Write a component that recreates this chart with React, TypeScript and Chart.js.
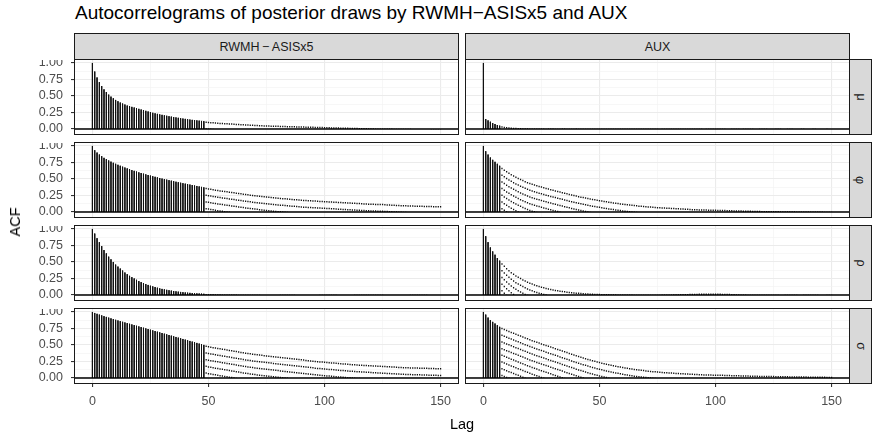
import React, { useEffect, useRef } from "react";
import { Chart, registerables } from "chart.js";
Chart.register(...registerables);

const FONT = "'Liberation Sans', Arial, Helvetica, sans-serif";
Chart.defaults.font.family = FONT;

// ---------- data ----------
const title = "Autocorrelograms of posterior draws by RWMH\u2212ASISx5 and AUX";
const samplers = ["RWMH\u2009\u2212\u2009ASISx5", "AUX"];
const params = ["\u03bc", "\u03c6", "\u03c1", "\u03c3"];
const xLabel = "Lag";
const yLabel = "ACF";
const lags = Array.from({ length: 151 }, (_, i) => i);
const xMajor = [0, 50, 100, 150];
const xMinor = [25, 75, 125];
const yMajor = [0, 0.25, 0.5, 0.75, 1];
const yMinor = [0.125, 0.375, 0.625, 0.875];
const solidUntil = [48, 7]; // last lag rendered with solid stroke, per sampler

const muRWMH = [
  1.0, 0.87, 0.78, 0.71, 0.65, 0.6, 0.56, 0.52, 0.49, 0.465, 0.44,
  0.42, 0.4, 0.385, 0.37, 0.355, 0.345, 0.335, 0.325, 0.315, 0.305,
  0.295, 0.285, 0.275, 0.265, 0.255, 0.245, 0.237, 0.229, 0.221, 0.214,
  0.207, 0.2, 0.193, 0.187, 0.181, 0.175, 0.169, 0.163, 0.158, 0.153,
  0.148, 0.143, 0.138, 0.134, 0.13, 0.126, 0.122, 0.118, 0.114, 0.11,
  0.107, 0.104, 0.101, 0.098, 0.095, 0.093, 0.091, 0.089, 0.087, 0.085,
  0.083, 0.081, 0.079, 0.077, 0.075, 0.073, 0.071, 0.069, 0.067, 0.065,
  0.063, 0.061, 0.059, 0.057, 0.056, 0.055, 0.054, 0.053, 0.052, 0.051,
  0.05, 0.049, 0.048, 0.047, 0.046, 0.045, 0.044, 0.043, 0.042, 0.041,
  0.04, 0.039, 0.038, 0.037, 0.036, 0.035, 0.034, 0.033, 0.032, 0.031,
  0.03, 0.029, 0.028, 0.027, 0.026, 0.025, 0.024, 0.023, 0.022, 0.021,
  0.02, 0.019, 0.018, 0.017, 0.016, 0.015, 0.014, 0.013, 0.012, 0.011,
  0.01, 0.009, 0.009, 0.008, 0.008, 0.007, 0.007, 0.006, 0.006, 0.005,
  0.005, 0.004, 0.004, 0.003, 0.003, 0.002, 0.002, 0.001, 0.001, 0.0,
  0.0, -0.001, -0.001, -0.002, -0.002, -0.003, -0.003, -0.004, -0.004, -0.005,
];

const phiRWMH = [
  1.0, 0.935, 0.9, 0.87, 0.845, 0.82, 0.8, 0.78, 0.762, 0.745, 0.73,
  0.715, 0.7, 0.686, 0.673, 0.66, 0.647, 0.635, 0.623, 0.612, 0.6,
  0.59, 0.58, 0.57, 0.56, 0.551, 0.542, 0.533, 0.524, 0.515, 0.506,
  0.498, 0.49, 0.482, 0.474, 0.466, 0.458, 0.45, 0.443, 0.436, 0.429,
  0.422, 0.415, 0.408, 0.401, 0.394, 0.387, 0.38, 0.373, 0.366, 0.36,
  0.354, 0.348, 0.342, 0.336, 0.331, 0.326, 0.321, 0.316, 0.311, 0.306,
  0.301, 0.296, 0.291, 0.286, 0.281, 0.276, 0.271, 0.266, 0.262, 0.258,
  0.254, 0.25, 0.246, 0.242, 0.238, 0.234, 0.23, 0.226, 0.222, 0.219,
  0.216, 0.213, 0.21, 0.207, 0.204, 0.201, 0.198, 0.195, 0.192, 0.189,
  0.186, 0.184, 0.182, 0.18, 0.178, 0.176, 0.174, 0.172, 0.17, 0.168,
  0.166, 0.164, 0.162, 0.16, 0.158, 0.156, 0.154, 0.152, 0.15, 0.148,
  0.146, 0.144, 0.142, 0.14, 0.138, 0.136, 0.134, 0.132, 0.13, 0.128,
  0.127, 0.126, 0.125, 0.124, 0.123, 0.121, 0.119, 0.117, 0.115, 0.113,
  0.111, 0.109, 0.107, 0.105, 0.104, 0.103, 0.102, 0.101, 0.1, 0.099,
  0.098, 0.097, 0.096, 0.095, 0.094, 0.093, 0.092, 0.091, 0.09, 0.089,
];

const rhoRWMH = [
  1.0, 0.93, 0.86, 0.8, 0.74, 0.68, 0.63, 0.58, 0.54, 0.5, 0.46,
  0.43, 0.4, 0.37, 0.34, 0.315, 0.29, 0.27, 0.25, 0.23, 0.21,
  0.195, 0.18, 0.165, 0.152, 0.14, 0.13, 0.12, 0.11, 0.1, 0.092,
  0.085, 0.078, 0.072, 0.066, 0.06, 0.055, 0.05, 0.046, 0.042, 0.038,
  0.035, 0.032, 0.029, 0.026, 0.024, 0.022, 0.02, 0.018, 0.016, 0.015,
  0.014, 0.013, 0.012, 0.011, 0.01, 0.009, 0.008, 0.008, 0.007, 0.007,
  0.006, 0.006, 0.005, 0.005, 0.004, 0.004, 0.003, 0.003, 0.003, 0.002,
  0.002, 0.002, 0.001, 0.001, 0.001, 0.0, 0.0, 0.0, 0.001, 0.001,
  0.002, 0.002, 0.003, 0.003, 0.003, 0.002, 0.002, 0.001, 0.001, 0.0,
  0.0, -0.001, -0.001, 0.0, 0.0, 0.001, 0.001, 0.002, 0.002, 0.002,
  0.003, 0.003, 0.003, 0.002, 0.002, 0.001, 0.001, 0.0, 0.0, 0.0,
  0.001, 0.001, 0.002, 0.002, 0.003, 0.003, 0.003, 0.004, 0.004, 0.004,
  0.004, 0.003, 0.003, 0.002, 0.002, 0.001, 0.001, 0.0, 0.0, -0.001,
  -0.001, -0.001, 0.0, 0.0, 0.001, 0.001, 0.002, 0.002, 0.002, 0.003,
  0.003, 0.003, 0.002, 0.002, 0.001, 0.001, 0.0, 0.0, 0.0, 0.0,
];

const sigmaRWMH = [
  1.0, 0.985, 0.972, 0.96, 0.948, 0.936, 0.925, 0.914, 0.903, 0.892, 0.881,
  0.871, 0.861, 0.851, 0.841, 0.831, 0.821, 0.811, 0.801, 0.791, 0.781,
  0.771, 0.761, 0.751, 0.741, 0.731, 0.721, 0.711, 0.701, 0.691, 0.681,
  0.671, 0.661, 0.651, 0.641, 0.631, 0.621, 0.611, 0.601, 0.591, 0.581,
  0.571, 0.561, 0.551, 0.541, 0.531, 0.521, 0.511, 0.501, 0.492, 0.483,
  0.477, 0.471, 0.465, 0.459, 0.453, 0.447, 0.441, 0.435, 0.429, 0.423,
  0.417, 0.411, 0.405, 0.399, 0.393, 0.387, 0.382, 0.377, 0.372, 0.367,
  0.362, 0.358, 0.354, 0.35, 0.346, 0.342, 0.338, 0.334, 0.33, 0.326,
  0.322, 0.318, 0.314, 0.31, 0.306, 0.302, 0.298, 0.294, 0.29, 0.286,
  0.282, 0.278, 0.274, 0.27, 0.266, 0.262, 0.258, 0.255, 0.252, 0.249,
  0.246, 0.243, 0.24, 0.237, 0.234, 0.231, 0.228, 0.225, 0.222, 0.219,
  0.216, 0.213, 0.21, 0.208, 0.206, 0.204, 0.202, 0.2, 0.198, 0.196,
  0.194, 0.192, 0.19, 0.188, 0.186, 0.184, 0.182, 0.18, 0.178, 0.176,
  0.174, 0.172, 0.17, 0.168, 0.166, 0.165, 0.164, 0.163, 0.162, 0.161,
  0.16, 0.159, 0.158, 0.157, 0.156, 0.155, 0.154, 0.153, 0.152, 0.151,
];

const muAUX = [
  1.0, 0.15, 0.13, 0.11, 0.09, 0.075, 0.06, 0.05, 0.04, 0.035, 0.03,
  0.026, 0.023, 0.02, 0.018, 0.016, 0.014, 0.012, 0.011, 0.01, 0.009,
  0.008, 0.008, 0.007, 0.007, 0.006, 0.006, 0.005, 0.006, 0.007, 0.006,
  0.005, 0.004, 0.005, 0.006, 0.006, 0.005, 0.004, 0.004, 0.005, 0.006,
  0.005, 0.004, 0.003, 0.004, 0.005, 0.005, 0.004, 0.003, 0.003, 0.004,
  0.005, 0.004, 0.003, 0.002, 0.003, 0.004, 0.004, 0.003, 0.002, 0.003,
  0.004, 0.005, 0.004, 0.003, 0.002, 0.002, 0.003, 0.004, 0.003, 0.002,
  0.003, 0.004, 0.004, 0.003, 0.002, 0.001, 0.002, 0.003, 0.004, 0.003,
  0.002, 0.002, 0.003, 0.004, 0.005, 0.004, 0.003, 0.002, 0.002, 0.003,
  0.004, 0.004, 0.003, 0.002, 0.001, 0.002, 0.003, 0.003, 0.002, 0.002,
  0.003, 0.004, 0.003, 0.002, 0.001, 0.001, 0.002, 0.003, 0.003, 0.002,
  0.001, 0.002, 0.003, 0.004, 0.003, 0.002, 0.001, 0.001, 0.002, 0.003,
  0.003, 0.002, 0.001, 0.0, 0.001, 0.002, 0.003, 0.002, 0.001, 0.001,
  0.002, 0.003, 0.002, 0.001, 0.0, 0.001, 0.002, 0.002, 0.001, 0.0,
  0.001, 0.002, 0.002, 0.001, 0.0, 0.0, 0.001, 0.002, 0.001, 0.0,
];

const phiAUX = [
  1.0, 0.92, 0.87, 0.825, 0.79, 0.76, 0.73, 0.7, 0.67, 0.645, 0.62,
  0.598, 0.577, 0.557, 0.538, 0.52, 0.503, 0.487, 0.471, 0.456, 0.441,
  0.43, 0.419, 0.408, 0.398, 0.388, 0.378, 0.368, 0.358, 0.349, 0.34,
  0.331, 0.322, 0.313, 0.304, 0.295, 0.286, 0.277, 0.268, 0.26, 0.252,
  0.244, 0.236, 0.229, 0.222, 0.215, 0.208, 0.201, 0.195, 0.189, 0.183,
  0.177, 0.171, 0.165, 0.159, 0.154, 0.149, 0.144, 0.139, 0.134, 0.129,
  0.124, 0.12, 0.116, 0.112, 0.108, 0.104, 0.1, 0.097, 0.094, 0.091,
  0.088, 0.085, 0.082, 0.079, 0.077, 0.075, 0.073, 0.071, 0.069, 0.067,
  0.065, 0.063, 0.061, 0.059, 0.057, 0.055, 0.053, 0.051, 0.049, 0.047,
  0.045, 0.044, 0.043, 0.042, 0.041, 0.04, 0.039, 0.038, 0.037, 0.036,
  0.035, 0.034, 0.033, 0.032, 0.031, 0.03, 0.029, 0.028, 0.027, 0.026,
  0.025, 0.024, 0.023, 0.022, 0.021, 0.02, 0.019, 0.018, 0.017, 0.016,
  0.016, 0.015, 0.015, 0.014, 0.014, 0.013, 0.013, 0.012, 0.012, 0.011,
  0.011, 0.01, 0.01, 0.01, 0.009, 0.009, 0.009, 0.008, 0.008, 0.008,
  0.007, 0.007, 0.007, 0.006, 0.006, 0.006, 0.005, 0.005, 0.005, 0.005,
];

const rhoAUX = [
  1.0, 0.89, 0.8, 0.72, 0.66, 0.61, 0.56, 0.52, 0.48, 0.445, 0.41,
  0.38, 0.35, 0.325, 0.3, 0.28, 0.26, 0.24, 0.222, 0.205, 0.19,
  0.176, 0.163, 0.151, 0.14, 0.13, 0.12, 0.111, 0.103, 0.095, 0.088,
  0.081, 0.075, 0.069, 0.064, 0.059, 0.054, 0.05, 0.046, 0.042, 0.039,
  0.036, 0.033, 0.03, 0.028, 0.026, 0.024, 0.022, 0.02, 0.018, 0.017,
  0.016, 0.015, 0.014, 0.013, 0.012, 0.011, 0.01, 0.009, 0.008, 0.008,
  0.007, 0.007, 0.006, 0.006, 0.005, 0.005, 0.005, 0.004, 0.004, 0.004,
  0.004, 0.004, 0.004, 0.005, 0.005, 0.005, 0.006, 0.006, 0.007, 0.008,
  0.009, 0.01, 0.011, 0.012, 0.013, 0.014, 0.015, 0.016, 0.017, 0.018,
  0.019, 0.02, 0.021, 0.022, 0.022, 0.023, 0.023, 0.023, 0.023, 0.022,
  0.022, 0.021, 0.02, 0.019, 0.018, 0.017, 0.015, 0.013, 0.011, 0.01,
  0.008, 0.007, 0.006, 0.005, 0.004, 0.004, 0.003, 0.003, 0.003, 0.003,
  0.002, 0.002, 0.002, 0.003, 0.003, 0.002, 0.002, 0.001, 0.001, 0.002,
  0.002, 0.003, 0.003, 0.002, 0.002, 0.001, 0.001, 0.002, 0.002, 0.002,
  0.003, 0.003, 0.002, 0.002, 0.001, 0.001, 0.001, 0.002, 0.002, 0.002,
];

const sigmaAUX = [
  1.0, 0.96, 0.915, 0.875, 0.85, 0.825, 0.8, 0.775, 0.76, 0.745, 0.73,
  0.716, 0.702, 0.688, 0.674, 0.66, 0.646, 0.632, 0.618, 0.604, 0.59,
  0.577, 0.564, 0.552, 0.54, 0.528, 0.516, 0.504, 0.492, 0.48, 0.468,
  0.456, 0.444, 0.432, 0.42, 0.408, 0.396, 0.384, 0.372, 0.36, 0.348,
  0.337, 0.326, 0.315, 0.304, 0.293, 0.283, 0.273, 0.263, 0.254, 0.245,
  0.236, 0.228, 0.22, 0.212, 0.204, 0.197, 0.19, 0.183, 0.176, 0.169,
  0.163, 0.157, 0.151, 0.146, 0.141, 0.136, 0.131, 0.127, 0.123, 0.119,
  0.115, 0.111, 0.107, 0.104, 0.101, 0.098, 0.095, 0.092, 0.089, 0.087,
  0.085, 0.083, 0.081, 0.079, 0.077, 0.075, 0.073, 0.071, 0.069, 0.067,
  0.065, 0.063, 0.061, 0.059, 0.058, 0.057, 0.056, 0.055, 0.054, 0.053,
  0.053, 0.052, 0.051, 0.05, 0.049, 0.048, 0.047, 0.046, 0.045, 0.044,
  0.043, 0.042, 0.041, 0.04, 0.039, 0.038, 0.037, 0.036, 0.035, 0.034,
  0.034, 0.033, 0.033, 0.032, 0.032, 0.031, 0.031, 0.03, 0.03, 0.029,
  0.029, 0.028, 0.028, 0.027, 0.027, 0.026, 0.026, 0.025, 0.025, 0.024,
  0.024, 0.023, 0.023, 0.022, 0.022, 0.021, 0.021, 0.02, 0.02, 0.02,
];

// rows = params, cols = samplers
const acfGrid = [
  [muRWMH, muAUX],
  [phiRWMH, phiAUX],
  [rhoRWMH, rhoAUX],
  [sigmaRWMH, sigmaAUX],
];

// ---------- layout ----------
const X_MIN = -7.5;
const X_MAX = 157.5;
const Y_MIN = -0.076;
const Y_MAX = 1.045;
const PANEL_W = 383;
const PANEL_H = 74;
const COL_LEFT = [75, 466];
const ROW_TOP = [60, 143, 226, 309];
const Y_AXIS_W = 75;
const X_AXIS_H = 34;
const BORDER = "#1A1A1A";
const STRIP_BG = "#D9D9D9";

const isIn = (arr: number[], v: number) => arr.some((a) => Math.abs(a - v) < 1e-9);
const zeroPad = (s: any) => {
  s.paddingTop = 0;
  s.paddingBottom = 0;
  s.paddingLeft = 0;
  s.paddingRight = 0;
};

function Panel(props: {
  values: number[];
  solidMax: number;
  showY: boolean;
  showX: boolean;
  left: number;
  top: number;
  width: number;
  height: number;
}) {
  const { values, solidMax, showY, showX, left, top, width, height } = props;
  const ref = useRef<HTMLCanvasElement>(null);
  useEffect(() => {
    const solid: any[] = [];
    const dashed: any[] = [];
    values.forEach((v, i) => {
      const lag = lags[i];
      const seg = [
        { x: lag, y: v },
        { x: lag, y: 0 },
        { x: lag, y: null },
      ];
      (lag <= solidMax ? solid : dashed).push(...seg);
    });
    const chart = new Chart(ref.current as HTMLCanvasElement, {
      type: "scatter",
      data: {
        datasets: [
          {
            data: [
              { x: X_MIN, y: 0 },
              { x: X_MAX, y: 0 },
            ],
            showLine: true,
            borderColor: "#000",
            borderWidth: 1.6,
            pointRadius: 0,
          } as any,
          {
            data: solid,
            showLine: true,
            spanGaps: false,
            borderColor: "#111",
            borderWidth: 1,
            pointRadius: 0,
          } as any,
          {
            data: dashed,
            showLine: true,
            spanGaps: false,
            borderColor: "#111",
            borderWidth: 1.25,
            borderDash: [1.5, 5.2],
            pointRadius: 0,
          } as any,
        ],
      },
      options: {
        animation: false,
        responsive: false,
        devicePixelRatio: 1,
        events: [],
        layout: { padding: 0 },
        plugins: { legend: { display: false }, tooltip: { enabled: false } },
        scales: {
          x: {
            type: "linear",
            position: "bottom",
            min: X_MIN,
            max: X_MAX,
            afterBuildTicks: (s: any) => {
              s.ticks = [...xMajor, ...xMinor].sort((a, b) => a - b).map((v) => ({ value: v }));
            },
            afterFit: (s: any) => {
              s.height = showX ? X_AXIS_H : 0;
              zeroPad(s);
            },
            border: { display: false },
            grid: {
              drawTicks: showX,
              tickLength: 4,
              tickWidth: 1.1,
              color: (c: any) => (isIn(xMajor, c.tick?.value) ? "#EBEBEB" : "#F2F2F2"),
              lineWidth: (c: any) => (isIn(xMajor, c.tick?.value) ? 1.1 : 0.6),
              tickColor: (c: any) => (isIn(xMajor, c.tick?.value) ? "#333333" : "rgba(0,0,0,0)"),
            },
            ticks: {
              display: showX,
              autoSkip: false,
              maxRotation: 0,
              padding: 7,
              color: "#4D4D4D",
              font: { size: 12.5, family: FONT },
              callback: (v: any) => (isIn(xMajor, Number(v)) ? String(v) : ""),
            },
          },
          y: {
            type: "linear",
            position: "left",
            min: Y_MIN,
            max: Y_MAX,
            afterBuildTicks: (s: any) => {
              s.ticks = [...yMajor, ...yMinor].sort((a, b) => a - b).map((v) => ({ value: v }));
            },
            afterFit: (s: any) => {
              s.width = showY ? Y_AXIS_W : 0;
              zeroPad(s);
            },
            border: { display: false },
            grid: {
              drawTicks: showY,
              tickLength: 4,
              tickWidth: 1.1,
              color: (c: any) => (isIn(yMajor, c.tick?.value) ? "#EBEBEB" : "#F2F2F2"),
              lineWidth: (c: any) => (isIn(yMajor, c.tick?.value) ? 1.1 : 0.6),
              tickColor: (c: any) => (isIn(yMajor, c.tick?.value) ? "#333333" : "rgba(0,0,0,0)"),
            },
            ticks: {
              display: showY,
              autoSkip: false,
              padding: 8,
              color: "#4D4D4D",
              font: { size: 12.5, family: FONT },
              callback: (v: any) => (isIn(yMajor, Number(v)) ? Number(v).toFixed(2) : ""),
            },
          },
        },
      } as any,
    });
    return () => chart.destroy();
  }, []);
  return (
    <canvas
      ref={ref}
      width={width}
      height={height}
      style={{ position: "absolute", left, top, width, height, display: "block" }}
    />
  );
}

export default function App() {
  const panels: React.ReactNode[] = [];
  const overlays: React.ReactNode[] = [];
  acfGrid.forEach((row, r) => {
    row.forEach((values, c) => {
      const showY = c === 0;
      const showX = r === acfGrid.length - 1;
      const left = showY ? COL_LEFT[c] - Y_AXIS_W : COL_LEFT[c];
      const width = showY ? PANEL_W + Y_AXIS_W : PANEL_W;
      const height = showX ? PANEL_H + X_AXIS_H : PANEL_H;
      panels.push(
        <Panel
          key={`p${r}${c}`}
          values={values}
          solidMax={solidUntil[c]}
          showY={showY}
          showX={showX}
          left={left}
          top={ROW_TOP[r]}
          width={width}
          height={height}
        />
      );
      overlays.push(
        <div
          key={`b${r}${c}`}
          style={{
            position: "absolute",
            left: COL_LEFT[c] - 1,
            top: ROW_TOP[r] - 1,
            width: PANEL_W + 2,
            height: PANEL_H + 2,
            border: `1px solid ${BORDER}`,
            boxSizing: "border-box",
            pointerEvents: "none",
          }}
        />
      );
    });
    overlays.push(
      <div
        key={`rs${r}`}
        style={{
          position: "absolute",
          left: COL_LEFT[1] + PANEL_W,
          top: ROW_TOP[r] - 1,
          width: 23,
          height: PANEL_H + 2,
          background: STRIP_BG,
          border: `1px solid ${BORDER}`,
          boxSizing: "border-box",
          display: "flex",
          alignItems: "center",
          justifyContent: "center",
        }}
      >
        <span
          style={{
            display: "inline-block",
            transform: "rotate(90deg)",
            fontSize: 12.5,
            color: "#1A1A1A",
            fontFamily: FONT,
          }}
        >
          {params[r]}
        </span>
      </div>
    );
  });
  samplers.forEach((s, c) => {
    overlays.push(
      <div
        key={`ts${c}`}
        style={{
          position: "absolute",
          left: COL_LEFT[c] - 1,
          top: 33,
          width: PANEL_W + 2,
          height: 27,
          background: STRIP_BG,
          border: `1px solid ${BORDER}`,
          boxSizing: "border-box",
          display: "flex",
          alignItems: "center",
          justifyContent: "center",
          fontSize: 12.5,
          color: "#1A1A1A",
          fontFamily: FONT,
          whiteSpace: "nowrap",
        }}
      >
        {s}
      </div>
    );
  });

  return (
    <div
      style={{
        position: "fixed",
        left: 0,
        top: 0,
        width: 872,
        height: 438,
        background: "#fff",
        overflow: "hidden",
        fontFamily: FONT,
      }}
    >
      <div
        style={{
          position: "absolute",
          left: 75,
          top: 0,
          fontSize: 19,
          lineHeight: "26px",
          color: "#000",
          whiteSpace: "nowrap",
        }}
      >
        {title}
      </div>
      {panels}
      {overlays}
      <div
        style={{
          position: "absolute",
          left: COL_LEFT[0],
          width: COL_LEFT[1] + PANEL_W - COL_LEFT[0],
          top: 416,
          textAlign: "center",
          fontSize: 14.5,
          color: "#000",
        }}
      >
        {xLabel}
      </div>
      <div
        style={{
          position: "absolute",
          left: 14.5,
          top: 222,
          transform: "translate(-50%, -50%) rotate(-90deg)",
          fontSize: 14.5,
          color: "#000",
          whiteSpace: "nowrap",
        }}
      >
        {yLabel}
      </div>
    </div>
  );
}
